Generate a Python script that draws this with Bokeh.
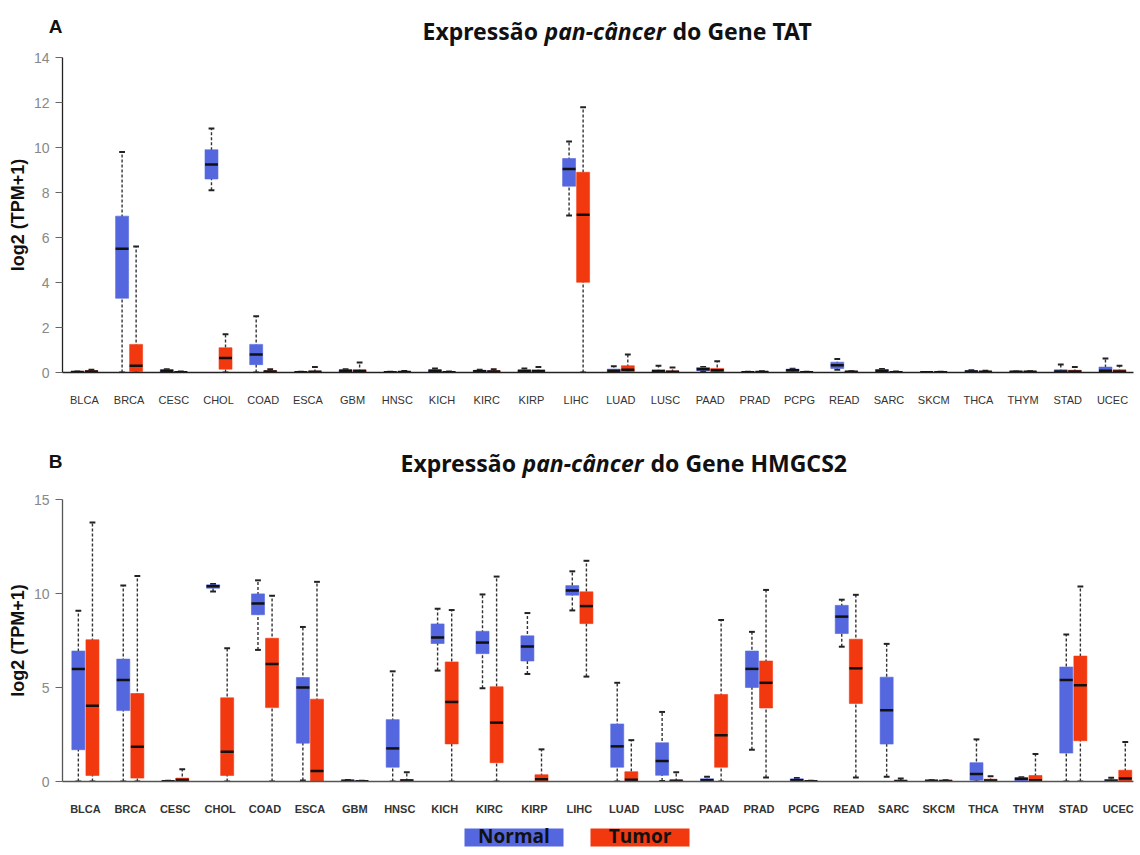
from bokeh.plotting import figure
from bokeh.models import Range1d, FixedTicker, Label, ColumnDataSource
from bokeh.layouts import column
from bokeh.core.properties import value
from bokeh.embed import file_html
from bokeh.resources import INLINE

cats = ["BLCA", "BRCA", "CESC", "CHOL", "COAD", "ESCA", "GBM", "HNSC", "KICH", "KIRC",
        "KIRP", "LIHC", "LUAD", "LUSC", "PAAD", "PRAD", "PCPG", "READ", "SARC", "SKCM",
        "THCA", "THYM", "STAD", "UCEC"]

# ---- TAT (panel A) : [min, q1, median, q3, max] per cancer type
tat_normal = [
    [0, 0, 0.02, 0.04, 0.05], [0, 3.3, 5.5, 6.95, 9.8], [0, 0.02, 0.08, 0.12, 0.15],
    [8.1, 8.6, 9.25, 9.9, 10.85], [0, 0.35, 0.8, 1.25, 2.5], [0, 0, 0.01, 0.02, 0.03],
    [0, 0.02, 0.08, 0.12, 0.14], [0, 0, 0.01, 0.02, 0.03], [0, 0.02, 0.08, 0.12, 0.18],
    [0, 0.02, 0.06, 0.1, 0.12], [0, 0.02, 0.07, 0.12, 0.18], [6.98, 8.28, 9.05, 9.51, 10.27],
    [0, 0.02, 0.08, 0.15, 0.28], [0, 0.02, 0.06, 0.12, 0.3], [0.02, 0.08, 0.15, 0.22, 0.25],
    [0, 0, 0.01, 0.02, 0.03], [0, 0.03, 0.1, 0.15, 0.17], [0.12, 0.18, 0.32, 0.46, 0.6],
    [0, 0.03, 0.08, 0.13, 0.16], [0, 0, 0.01, 0.02, 0.02], [0, 0.01, 0.05, 0.08, 0.1],
    [0, 0.01, 0.03, 0.05, 0.05], [0, 0.01, 0.05, 0.12, 0.36], [0, 0.02, 0.08, 0.24, 0.62],
]
tat_tumor = [
    [0, 0.01, 0.04, 0.08, 0.12], [0, 0.05, 0.3, 1.25, 5.6], [0, 0, 0.01, 0.03, 0.04],
    [0, 0.15, 0.65, 1.1, 1.7], [0, 0.01, 0.05, 0.08, 0.15], [0, 0.01, 0.03, 0.06, 0.25],
    [0, 0.02, 0.07, 0.12, 0.45], [0, 0.01, 0.02, 0.04, 0.07], [0, 0, 0.01, 0.03, 0.04],
    [0, 0.01, 0.04, 0.08, 0.15], [0, 0.02, 0.06, 0.12, 0.25], [0, 4.01, 7.01, 8.9, 11.79],
    [0, 0.03, 0.12, 0.3, 0.8], [0, 0.01, 0.03, 0.07, 0.22], [0, 0.03, 0.1, 0.18, 0.5],
    [0, 0.01, 0.02, 0.04, 0.06], [0, 0, 0.01, 0.02, 0.03], [0, 0.01, 0.03, 0.05, 0.06],
    [0, 0, 0.01, 0.03, 0.04], [0, 0, 0.01, 0.02, 0.03], [0, 0.01, 0.03, 0.05, 0.08],
    [0, 0.01, 0.03, 0.05, 0.06], [0, 0.01, 0.04, 0.1, 0.25], [0, 0.02, 0.05, 0.12, 0.3],
]

# ---- HMGCS2 (panel B)
hmg_normal = [
    [0, 1.69, 5.99, 6.94, 9.08], [0, 3.77, 5.40, 6.51, 10.42], [0, 0, 0.01, 0.03, 0.04],
    [10.1, 10.28, 10.39, 10.46, 10.5], [7.0, 8.87, 9.47, 9.98, 10.7], [0.05, 2.04, 5.0, 5.53, 8.22],
    [0, 0.01, 0.04, 0.07, 0.08], [0, 0.76, 1.76, 3.29, 5.86], [5.9, 7.34, 7.66, 8.38, 9.19],
    [4.96, 6.8, 7.39, 7.99, 9.95], [5.72, 6.41, 7.18, 7.75, 8.96], [9.1, 9.91, 10.16, 10.42, 11.18],
    [0, 0.76, 1.87, 3.06, 5.25], [0.02, 0.33, 1.09, 2.06, 3.7], [0, 0.02, 0.06, 0.15, 0.25],
    [1.69, 5.0, 5.99, 6.94, 7.96], [0, 0.02, 0.06, 0.14, 0.18], [7.17, 7.87, 8.77, 9.37, 9.67],
    [0.25, 1.99, 3.79, 5.55, 7.32], [0, 0.01, 0.04, 0.06, 0.07], [0, 0.07, 0.4, 1.0, 2.24],
    [0, 0.03, 0.15, 0.2, 0.22], [0, 1.51, 5.4, 6.09, 7.82], [0, 0.01, 0.04, 0.1, 0.2],
]
hmg_tumor = [
    [0, 0.32, 4.03, 7.54, 13.77], [0, 0.18, 1.85, 4.68, 10.93], [0, 0.01, 0.08, 0.18, 0.65],
    [0, 0.32, 1.58, 4.45, 7.09], [0, 3.93, 6.25, 7.62, 9.88], [0, 0, 0.56, 4.38, 10.62],
    [0, 0, 0.01, 0.03, 0.04], [0, 0.01, 0.05, 0.1, 0.49], [0, 2.0, 4.23, 6.36, 9.12],
    [0, 1.0, 3.13, 5.04, 10.9], [0, 0.02, 0.12, 0.36, 1.71], [5.58, 8.4, 9.33, 10.09, 11.74],
    [0, 0, 0.09, 0.52, 2.2], [0, 0.01, 0.04, 0.08, 0.49], [0, 0.76, 2.46, 4.63, 8.59],
    [0.21, 3.91, 5.25, 6.41, 10.19], [0, 0, 0.01, 0.03, 0.04], [0.21, 4.15, 6.02, 7.57, 9.93],
    [0, 0, 0.02, 0.05, 0.16], [0, 0.01, 0.03, 0.06, 0.07], [0, 0.01, 0.05, 0.12, 0.28],
    [0, 0.02, 0.07, 0.32, 1.46], [0, 2.17, 5.12, 6.67, 10.37], [0, 0, 0.16, 0.6, 2.1],
]

tat_yticks = [0, 2, 4, 6, 8, 10, 12, 14]
hmg_yticks = [0, 5, 10, 15]

legend_names = ["Normal", "Tumor"]

BLUE = "#5567DE"
RED = "#F2380F"
OFF = 0.157
HW = 0.145
CAP = 0.065
X0 = 4             # observed horizontal page offset of the layout
W = 1134
LEFT = 62
FL, FR = X0 + LEFT, X0 + W - 1   # page x of the (column-aligned) plot frames


def add_boxes(p, stats, offset, color):
    x = [i + offset for i in range(len(stats))]
    src = ColumnDataSource(dict(
        x=x,
        lo=[s[0] for s in stats], q1=[s[1] for s in stats], med=[s[2] for s in stats],
        q3=[s[3] for s in stats], hi=[s[4] for s in stats],
        l=[v - HW for v in x], r=[v + HW for v in x],
        cl=[v - CAP for v in x], cr=[v + CAP for v in x],
    ))
    p.segment(x0="x", y0="lo", x1="x", y1="hi", source=src, line_color="#333333",
              line_width=1.4, line_dash="3 2")
    p.segment(x0="cl", y0="hi", x1="cr", y1="hi", source=src, line_color="#222222", line_width=2)
    p.segment(x0="cl", y0="lo", x1="cr", y1="lo", source=src, line_color="#222222", line_width=2)
    p.quad(left="l", right="r", bottom="q1", top="q3", source=src, fill_color=color,
           line_color=color, line_alpha=0.6, line_width=1)
    p.segment(x0="l", y0="med", x1="r", y1="med", source=src, line_color="#111111", line_width=2.5)


def strip(page_top, page_bottom, letter=None, letter_mid=None):
    """Axis-less strip whose data coordinates equal page pixels; an invisible left
    axis carries the panel letter as its single tick label."""
    f = figure(width=W, height=page_bottom - page_top, output_backend="svg",
               toolbar_location=None, x_axis_type=None,
               x_range=Range1d(FL, FR), y_range=Range1d(page_bottom, page_top),
               min_border_left=LEFT, min_border_right=1, min_border_top=0, min_border_bottom=0)
    f.outline_line_color = None
    f.xgrid.grid_line_color = None
    f.ygrid.grid_line_color = None
    ya = f.yaxis[0]
    ya.axis_line_color = None
    ya.major_tick_line_color = None
    ya.minor_tick_line_color = None
    ya.major_tick_in = 0
    ya.major_tick_out = 0
    ya.major_label_standoff = 0
    if letter is None:
        ya.ticker = FixedTicker(ticks=[])
    else:
        ya.ticker = FixedTicker(ticks=[letter_mid])
        ya.major_label_overrides = {letter_mid: letter}
    ya.major_label_text_font = "Liberation Sans"
    ya.major_label_text_font_style = "bold"
    ya.major_label_text_font_size = "19px"
    ya.major_label_text_color = "#111111"
    return f


def header(page_top, page_bottom, gene, letter, mid, lefts, letter_mid):
    f = strip(page_top, page_bottom, letter, letter_mid)
    pieces = [("Expressão", "bold"), ("pan-câncer", "bold italic"), ("do Gene " + gene, "bold")]
    for (txt, style), tx in zip(pieces, lefts):
        f.add_layout(Label(x=tx, y=mid, text=txt, text_font="Noto Sans", text_font_style=style,
                           text_font_size="23px", text_color="#111111",
                           text_align="left", text_baseline="middle"))
    return f


def panel(height, top, bottom, x_rng, y_max, yticks, normal, tumor, xlab_bold,
          axis_col, xstand):
    p = figure(width=W, height=height, output_backend="svg", toolbar_location=None,
               x_range=Range1d(*x_rng), y_range=Range1d(0, y_max),
               min_border_top=top, min_border_bottom=bottom, min_border_left=LEFT,
               min_border_right=1)
    p.outline_line_color = None
    p.xgrid.grid_line_color = None
    p.ygrid.grid_line_color = None

    add_boxes(p, normal, -OFF, BLUE)
    add_boxes(p, tumor, OFF, RED)

    xa = p.xaxis[0]
    xa.ticker = FixedTicker(ticks=list(range(len(cats))))
    xa.major_label_overrides = {i: c for i, c in enumerate(cats)}
    xa.major_tick_line_color = None
    xa.minor_tick_line_color = None
    xa.major_label_standoff = xstand
    xa.major_label_text_font = "Liberation Sans"
    xa.major_label_text_font_size = "11px"
    xa.major_label_text_font_style = "bold" if xlab_bold else "normal"
    xa.major_label_text_color = "#333333"
    xa.axis_line_color = axis_col
    xa.axis_line_width = 1.3

    ya = p.yaxis[0]
    ya.ticker = FixedTicker(ticks=yticks)
    ya.minor_tick_line_color = None
    ya.major_tick_in = 0
    ya.major_tick_out = 7
    ya.major_tick_line_color = "#666666"
    ya.axis_line_color = axis_col
    ya.axis_line_width = 1.3
    ya.major_label_standoff = 6
    ya.major_label_text_font = "Liberation Sans"
    ya.major_label_text_font_size = "14px"
    ya.major_label_text_color = "#888888"
    ya.axis_label = "log2 (TPM+1)"
    ya.axis_label_text_font = "Liberation Sans"
    ya.axis_label_text_font_size = "18px"
    ya.axis_label_text_font_style = "bold"
    ya.axis_label_text_color = "#111111"
    ya.axis_label_standoff = 3
    return p


# vertical page layout: headA 0-49, plotA 49-438, headB 438-491, plotB 491-817, legend 817-847
headA = header(0, 49, "TAT", "A", 30, [426, 548, 676], 26)
plotA = panel(389, 8, 66, (-0.49, 23.47), 14, tat_yticks, tat_normal, tat_tumor,
              False, "#222222", 15)
headB = header(438, 491, "HMGCS2", "B", 462, [404, 526, 654], 461)
plotB = panel(326, 8, 34, (-0.51, 23.34), 15, hmg_yticks, hmg_normal, hmg_tumor,
              True, "#555555", 15)

leg = strip(817, 847)
leg_src = ColumnDataSource(dict(
    l=[468, 594], r=[567, 693], t=[828, 828], b=[846, 846],
    x=[517.5, 643.5], y=[835, 835], name=legend_names, color=[BLUE, RED],
))
leg.quad(left="l", right="r", top="t", bottom="b", fill_color="color", line_color=None,
         source=leg_src)
leg.text(x="x", y="y", text="name", source=leg_src, text_font=value("Open Sans"),
         text_font_style="bold", text_font_size="19px", text_color="#111111",
         text_align="center", text_baseline="middle")

layout = column(headA, plotA, headB, plotB, leg, spacing=0)
open("out.html", "w").write(file_html(layout, INLINE))
